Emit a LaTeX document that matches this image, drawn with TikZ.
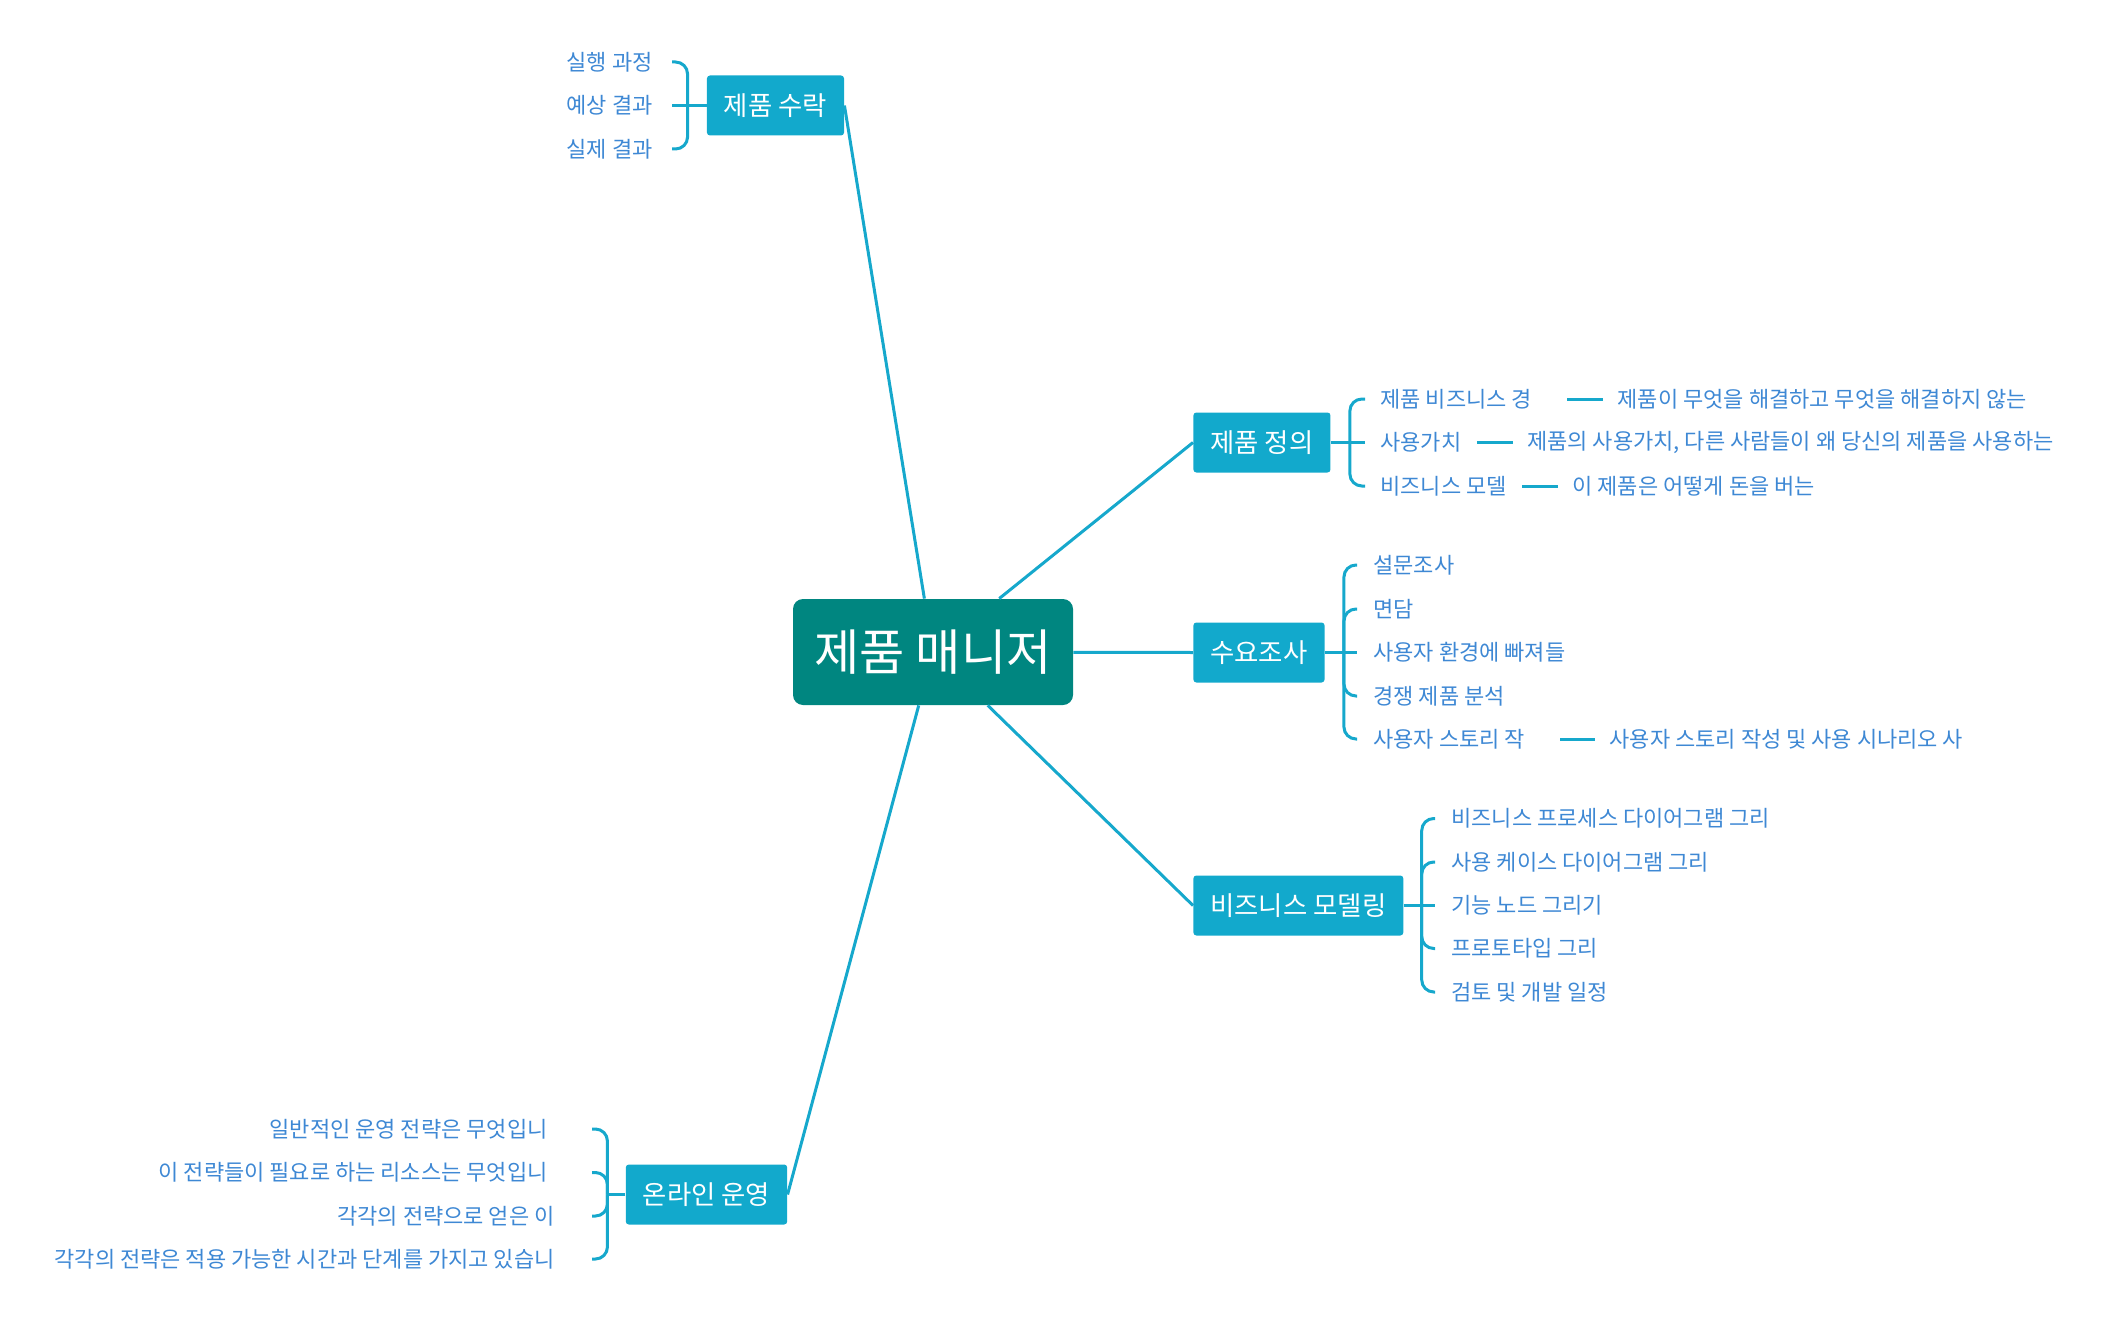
\documentclass[tikz,border=0pt]{standalone}
\usepackage{fontspec}
\setmainfont{Noto Sans CJK KR}
\usepackage{tikz}
\usetikzlibrary{shapes,arrows,positioning}
\definecolor{linkblue}{RGB}{22,168,204}
\definecolor{boxblue}{RGB}{18,169,204}
\definecolor{rootteal}{RGB}{0,134,128}
\definecolor{itemblue}{RGB}{62,136,212}

\begin{document}
\begin{tikzpicture}[x=0.5pt, y=-0.5pt,
	link/.style={line width=1.5pt, draw=linkblue},
	brace/.style={link, rounded corners=6pt},
	root/.style={fill=rootteal, text=white, rounded corners=5pt, minimum width=140pt, minimum height=53pt, font=\fontsize{24.6}{29}\selectfont},
	topic/.style={fill=boxblue, text=white, rounded corners=1.5pt, minimum height=30pt, inner xsep=8.5pt, font=\fontsize{13.2}{15}\selectfont},
	item/.style={text=itemblue, inner xsep=7.5pt, inner ysep=2pt, font=\fontsize{11}{13}\selectfont},
	leaf/.style={item, inner xsep=7pt}]

				\useasboundingbox (0,0) rectangle (2121,1338);

				% root and main topics
				\node [root] (pm) at (933,652) {제품 매니저};
				\node [topic] (acc) at (775.5,105.5) {제품 수락};
				\node [topic, anchor=west] (def) at (1193,442.5) {제품 정의};
				\node [topic, anchor=west] (dem) at (1193,652.5) {수요조사};
				\node [topic, anchor=west] (mod) at (1193,905.5) {비즈니스 모델링};
				\node [topic] (ops) at (706.5,1194.5) {온라인 운영};

				\foreach \t in {acc,ops} \draw [link] (pm) -- (\t.east);
				\foreach \t in {def,dem,mod} \draw [link] (pm) -- (\t.west);

				% brace junctions
				\coordinate [left=9.5pt of acc] (accj);
				\coordinate [right=9.5pt of def] (defj);
				\coordinate [right=9.5pt of dem] (demj);
				\coordinate [right=9pt of mod] (modj);
				\coordinate [left=9pt of ops] (opsj);

				% 제품 수락
				\node [item, anchor=east, inner xsep=9.5pt] (acc1) at (672,62) {실행 과정};
				\node [item, anchor=east, inner xsep=9.5pt] (acc2) at (672,105.5) {예상 결과};
				\node [item, anchor=east, inner xsep=9.5pt] (acc3) at (672,149) {실제 결과};
				\draw [link] (acc) -- (acc2);
				\foreach \i in {1,3} \draw [brace] (accj) |- (acc\i.east);

				% 제품 정의
				\node [item, anchor=west] (def1) at (1365,399) {제품 비즈니스 경\hspace*{10pt}};
				\node [item, anchor=west] (def2) at (1365,442.5) {사용가치};
				\node [item, anchor=west] (def3) at (1365,486) {비즈니스 모델};
				\draw [link] (def) -- (def2);
				\foreach \i in {1,3} \draw [brace] (defj) |- (def\i.west);
				\node [leaf, right=18pt of def1] (def1a) {제품이 무엇을 해결하고 무엇을 해결하지 않는};
				\node [leaf, right=18pt of def2] (def2a) {제품의 사용가치, 다른 사람들이 왜 당신의 제품을 사용하는};
				\node [leaf, right=18pt of def3] (def3a) {이 제품은 어떻게 돈을 버는};
				\foreach \i in {1,2,3} \draw [link] (def\i) -- (def\i a);

				% 수요조사
				\node [item, anchor=west, inner xsep=8pt] (dem1) at (1357,565) {설문조사};
				\node [item, anchor=west, inner xsep=8pt] (dem2) at (1357,609) {면담};
				\node [item, anchor=west, inner xsep=8pt] (dem3) at (1357,652.5) {사용자 환경에 빠져들};
				\node [item, anchor=west, inner xsep=8pt] (dem4) at (1357,696) {경쟁 제품 분석};
				\node [item, anchor=west, inner xsep=8pt] (dem5) at (1357,739) {사용자 스토리 작\hspace*{9.5pt}};
				\draw [link] (dem) -- (dem3);
				\foreach \i in {1,2,4,5} \draw [brace] (demj) |- (dem\i.west);
				\node [leaf, right=17.5pt of dem5] (dem5a) {사용자 스토리 작성 및 사용 시나리오 사};
				\draw [link] (dem5) -- (dem5a);

				% 비즈니스 모델링
				\node [item, anchor=west, inner xsep=8pt] (mod1) at (1435,818.5) {비즈니스 프로세스 다이어그램 그리};
				\node [item, anchor=west, inner xsep=8pt] (mod2) at (1435,862) {사용 케이스 다이어그램 그리};
				\node [item, anchor=west, inner xsep=8pt] (mod3) at (1435,905.5) {기능 노드 그리기};
				\node [item, anchor=west, inner xsep=8pt] (mod4) at (1435,948.5) {프로토타입 그리};
				\node [item, anchor=west, inner xsep=8pt] (mod5) at (1435,992) {검토 및 개발 일정};
				\draw [link] (mod) -- (mod3);
				\foreach \i in {1,2,4,5} \draw [brace] (modj) |- (mod\i.west);

				% 온라인 운영
				\node [item, anchor=east, inner xsep=22pt] (ops1) at (592,1129) {일반적인 운영 전략은 무엇입니};
				\node [item, anchor=east, inner xsep=22pt] (ops2) at (592,1172.5) {이 전략들이 필요로 하는 리소스는 무엇입니};
				\node [item, anchor=east, inner xsep=18.5pt] (ops3) at (592,1216) {각각의 전략으로 얻은 이};
				\node [item, anchor=east, inner xsep=18.5pt] (ops4) at (592,1259) {각각의 전략은 적용 가능한 시간과 단계를 가지고 있습니};
				\draw [link] (ops) -- (opsj);
				\foreach \i in {1,2,3,4} \draw [brace] (opsj) |- (ops\i.east);
\end{tikzpicture}
\end{document}
